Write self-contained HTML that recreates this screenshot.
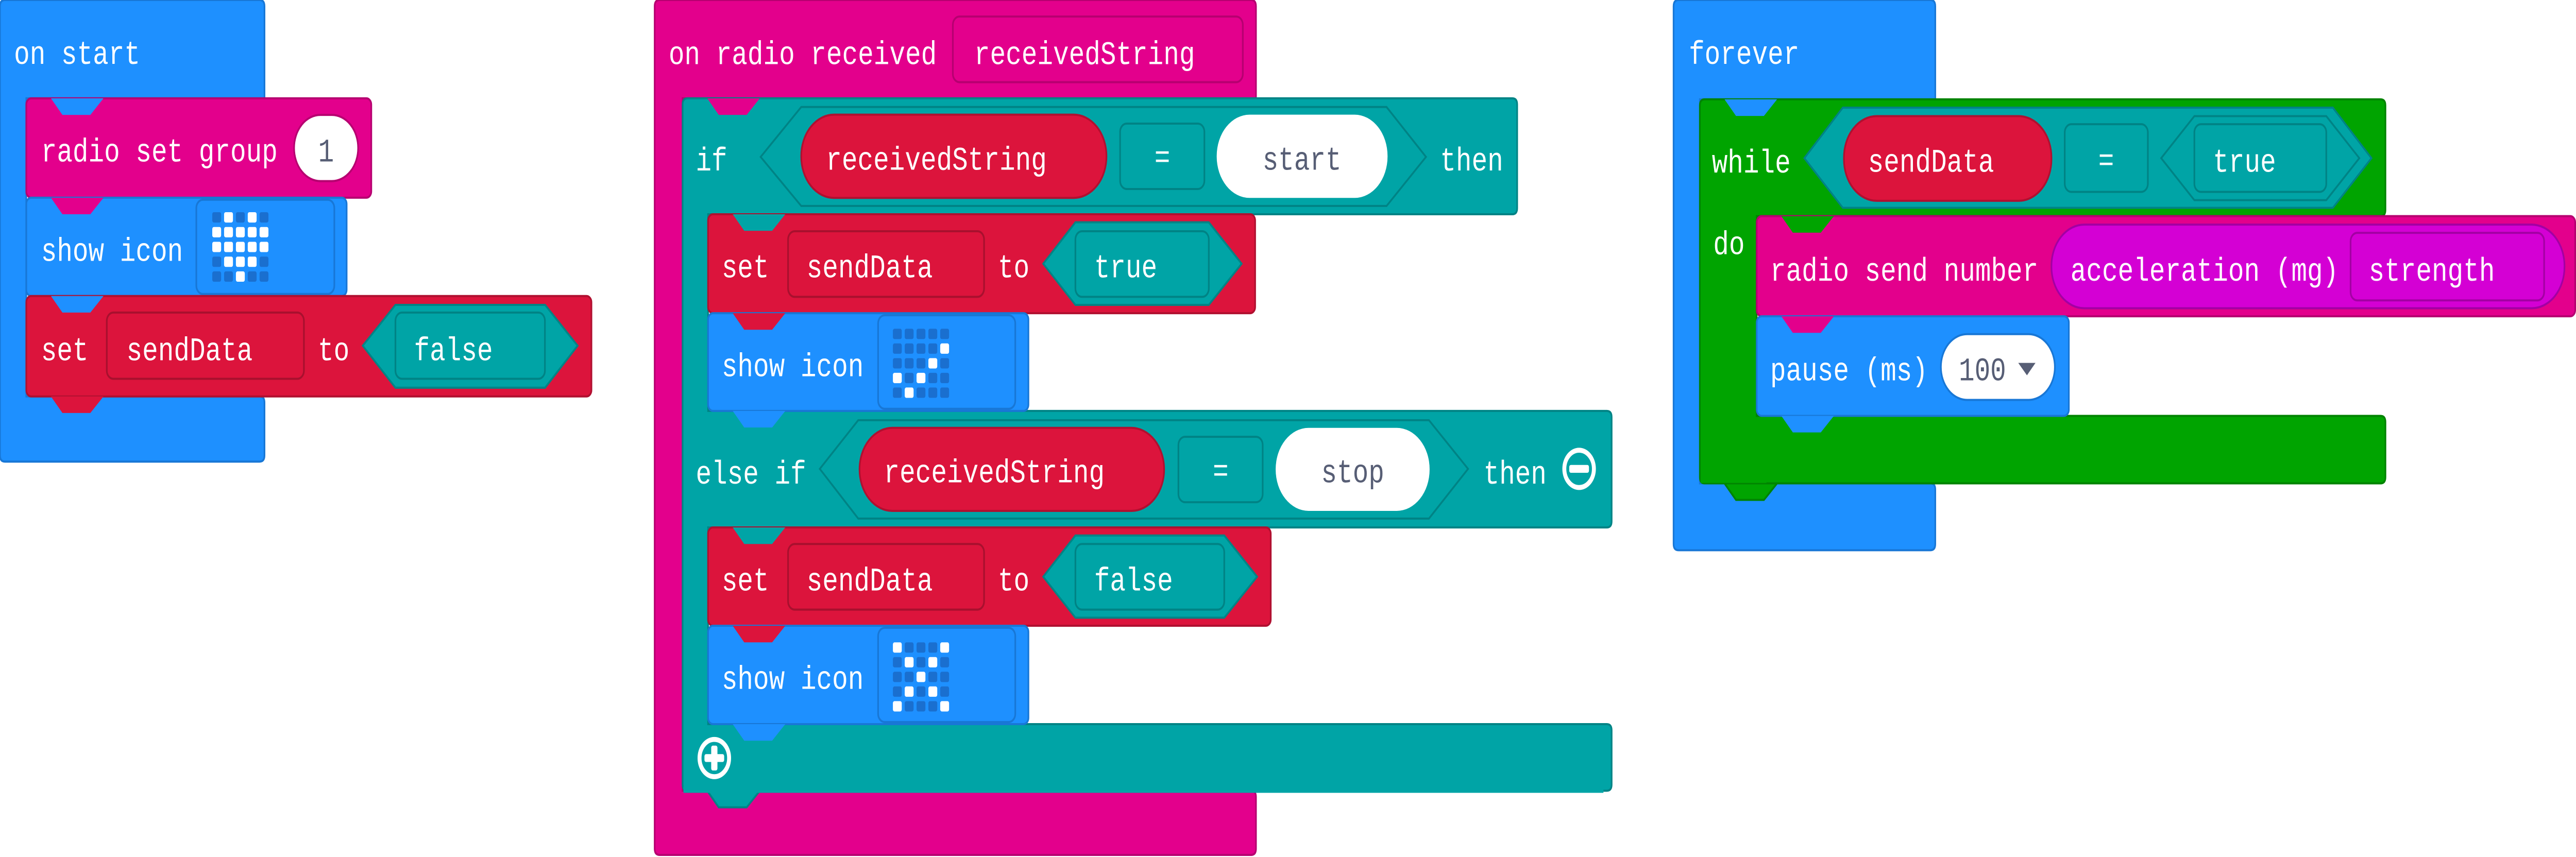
<!DOCTYPE html>
<html><head><meta charset="utf-8"><style>
html,body{margin:0;padding:0;background:#fff;width:100%;height:100%;overflow:hidden;}
svg{display:block;position:fixed;left:0;top:0;width:100vw;height:100vh;}
text{font-family:"Liberation Mono",monospace;font-size:16px;fill:#fff;}
.g{fill:#575e75;}
</style></head><body>
<svg viewBox="0 0 1568 414" preserveAspectRatio="none" xmlns="http://www.w3.org/2000/svg">
<defs>
<g id="ledon"><rect width="5.4" height="5" rx="1" fill="#fff"/></g>
<g id="ledoff"><rect width="5.4" height="5" rx="1" fill="#1a6fcf"/></g>
</defs>

<!-- ON START -->
<path d="M0,3 Q0,0 3,0 H158 Q161,0 161,3 V47.5 H16 V191.5 H158 Q161,191.5 161,194.5 V220 Q161,223 158,223 H3 Q0,223 0,220 Z" fill="#1e90ff" stroke="#1877d6" stroke-width="1"/>
<text x="8.5" y="30.8">on start</text>

<g transform="translate(16,47.5)">
<rect width="210" height="48" rx="3" fill="#e3008c" stroke="#b60070"/>
<polygon points="15,0 22,8 39,8 47,0" fill="#1e90ff"/>
<polygon points="15,48 22,56 39,56 47,48" fill="#e3008c"/>
<text x="9" y="30.5">radio set group</text>
<rect x="163" y="8" width="39" height="32" rx="16" fill="#fff" stroke="#b60070"/>
<text x="182.5" y="30.5" class="g" text-anchor="middle">1</text>
</g>

<g transform="translate(16,95.5)">
<rect width="195" height="47.5" rx="3" fill="#1e90ff" stroke="#1877d6"/>
<polygon points="15,0 22,8 39,8 47,0" fill="#e3008c"/>
<polygon points="15,47.5 22,55.5 39,55.5 47,47.5" fill="#1e90ff"/>
<text x="9" y="30.5">show icon</text>
<rect x="103.5" y="1" width="84" height="45.5" rx="4" fill="#1e90ff" stroke="#1877d6"/>
<g transform="translate(113.2,7)">
<use href="#ledoff" x="0" y="0"/><use href="#ledon" x="7.2" y="0"/><use href="#ledoff" x="14.4" y="0"/><use href="#ledon" x="21.6" y="0"/><use href="#ledoff" x="28.8" y="0"/>
<use href="#ledon" x="0" y="7.15"/><use href="#ledon" x="7.2" y="7.15"/><use href="#ledon" x="14.4" y="7.15"/><use href="#ledon" x="21.6" y="7.15"/><use href="#ledon" x="28.8" y="7.15"/>
<use href="#ledon" x="0" y="14.3"/><use href="#ledon" x="7.2" y="14.3"/><use href="#ledon" x="14.4" y="14.3"/><use href="#ledon" x="21.6" y="14.3"/><use href="#ledon" x="28.8" y="14.3"/>
<use href="#ledoff" x="0" y="21.45"/><use href="#ledon" x="7.2" y="21.45"/><use href="#ledon" x="14.4" y="21.45"/><use href="#ledon" x="21.6" y="21.45"/><use href="#ledoff" x="28.8" y="21.45"/>
<use href="#ledoff" x="0" y="28.6"/><use href="#ledoff" x="7.2" y="28.6"/><use href="#ledon" x="14.4" y="28.6"/><use href="#ledoff" x="21.6" y="28.6"/><use href="#ledoff" x="28.8" y="28.6"/>
</g>
</g>

<g transform="translate(16,143)">
<rect width="344" height="48.5" rx="3" fill="#dc143c" stroke="#b01030"/>
<polygon points="15,0 22,8 39,8 47,0" fill="#1e90ff"/>
<polygon points="15,48.5 22,56.5 39,56.5 47,48.5" fill="#dc143c"/>
<text x="9" y="31">set</text>
<rect x="49" y="8" width="120" height="32" rx="4" fill="#dc143c" stroke="#a8102e"/>
<text x="61" y="31">sendData</text>
<text x="177.5" y="31">to</text>
<polygon points="204.8,24 224.7,4.3 315.8,4.3 335.6,24 315.8,44.3 224.7,44.3" fill="#00a4a6" stroke="#008385"/>
<rect x="224.7" y="8" width="91" height="32" rx="4" fill="#00a4a6" stroke="#008385"/>
<text x="236" y="31">false</text>
</g>

<!-- ON RADIO RECEIVED -->
<path d="M398.5,3 Q398.5,0 401.5,0 H761.5 Q764.5,0 764.5,3 V47.5 H415.5 V382 H761.5 Q764.5,382 764.5,385 V410 Q764.5,413 761.5,413 H401.5 Q398.5,413 398.5,410 Z" fill="#e3008c" stroke="#b60070"/>
<text x="407" y="31">on radio received</text>
<rect x="580" y="8" width="176.5" height="31.7" rx="4" fill="#e3008c" stroke="#b60070"/>
<text x="593" y="31">receivedString</text>

<path d="M415.5,50.5 Q415.5,47.5 418.5,47.5 H920.5 Q923.5,47.5 923.5,50.5 V100.5 Q923.5,103.5 920.5,103.5 H431 V198.5 H978 Q981,198.5 981,201.5 V251.8 Q981,254.8 978,254.8 H431 V349.8 H978 Q981,349.8 981,352.8 V379 Q981,382 978,382 H418.5 Q415.5,382 415.5,379 Z" fill="#00a4a6" stroke="#008385"/>
<polygon points="430.5,47.5 437.5,55.5 454.5,55.5 462.5,47.5" fill="#e3008c"/>
<polygon points="430.5,382 437.5,390 454.5,390 462.5,382" fill="#00a4a6" stroke="#008385"/>
<rect x="416" y="380" width="560" height="3" fill="#00a4a6"/>
<text x="423.5" y="82.4">if</text>
<polygon points="463,75.8 487.7,51.7 844,51.7 868,75.8 844,99.5 487.7,99.5" fill="#00a4a6" stroke="#008385"/>
<rect x="487.7" y="55.4" width="185.8" height="40.2" rx="20" fill="#dc143c" stroke="#b01030"/>
<text x="502.8" y="82">receivedString</text>
<rect x="681.8" y="59.7" width="51.3" height="31.6" rx="4" fill="#00a4a6" stroke="#008385"/>
<text x="707.5" y="81" text-anchor="middle">=</text>
<rect x="740.6" y="55.4" width="104" height="40.2" rx="20" fill="#fff"/>
<text x="792.5" y="82" text-anchor="middle" class="g">start</text>
<text x="876.6" y="82.4">then</text>

<g transform="translate(431,103.5)">
<rect width="333" height="47.8" rx="3" fill="#dc143c" stroke="#b01030"/>
<polygon points="15,0 22,8 39,8 47,0" fill="#00a4a6"/>
<polygon points="15,47.8 22,55.8 39,55.8 47,47.8" fill="#dc143c"/>
<text x="8.3" y="30.5">set</text>
<rect x="48.7" y="8.2" width="119.3" height="31.7" rx="4" fill="#dc143c" stroke="#a8102e"/>
<text x="60" y="30.5">sendData</text>
<text x="176.4" y="30.5">to</text>
<polygon points="204,23.9 223.6,3.9 304.8,3.9 324.8,23.9 304.8,43.8 223.6,43.8" fill="#00a4a6" stroke="#008385"/>
<rect x="223.6" y="8.2" width="81.2" height="31.7" rx="4" fill="#00a4a6" stroke="#008385"/>
<text x="235" y="30.5">true</text>
</g>

<g transform="translate(431,151.3)">
<rect width="195" height="47.2" rx="3" fill="#1e90ff" stroke="#1877d6"/>
<polygon points="15,0 22,8 39,8 47,0" fill="#dc143c"/>
<polygon points="15,47.2 22,55.2 39,55.2 47,47.2" fill="#1e90ff"/>
<text x="8.3" y="30.5">show icon</text>
<rect x="103.5" y="1" width="83.5" height="45.2" rx="4" fill="#1e90ff" stroke="#1877d6"/>
<g transform="translate(112.5,7.5)">
<use href="#ledoff" x="0" y="0"/><use href="#ledoff" x="7.2" y="0"/><use href="#ledoff" x="14.4" y="0"/><use href="#ledoff" x="21.6" y="0"/><use href="#ledoff" x="28.8" y="0"/>
<use href="#ledoff" x="0" y="7.1"/><use href="#ledoff" x="7.2" y="7.1"/><use href="#ledoff" x="14.4" y="7.1"/><use href="#ledoff" x="21.6" y="7.1"/><use href="#ledon" x="28.8" y="7.1"/>
<use href="#ledoff" x="0" y="14.2"/><use href="#ledoff" x="7.2" y="14.2"/><use href="#ledoff" x="14.4" y="14.2"/><use href="#ledon" x="21.6" y="14.2"/><use href="#ledoff" x="28.8" y="14.2"/>
<use href="#ledon" x="0" y="21.3"/><use href="#ledoff" x="7.2" y="21.3"/><use href="#ledon" x="14.4" y="21.3"/><use href="#ledoff" x="21.6" y="21.3"/><use href="#ledoff" x="28.8" y="21.3"/>
<use href="#ledoff" x="0" y="28.4"/><use href="#ledon" x="7.2" y="28.4"/><use href="#ledoff" x="14.4" y="28.4"/><use href="#ledoff" x="21.6" y="28.4"/><use href="#ledoff" x="28.8" y="28.4"/>
</g>
</g>

<text x="423.5" y="233.6">else if</text>
<polygon points="499,226.5 522.4,203 869.8,203 893.6,226.5 869.8,250.5 522.4,250.5" fill="#00a4a6" stroke="#008385"/>
<rect x="523.2" y="206.7" width="185.4" height="40.1" rx="20" fill="#dc143c" stroke="#b01030"/>
<text x="538" y="233">receivedString</text>
<rect x="717.3" y="211" width="51.3" height="31.6" rx="4" fill="#00a4a6" stroke="#008385"/>
<text x="743" y="232.5" text-anchor="middle">=</text>
<rect x="776.5" y="206.7" width="93.7" height="40.1" rx="20" fill="#fff"/>
<text x="823.4" y="233" text-anchor="middle" class="g">stop</text>
<text x="903" y="233.6">then</text>
<circle cx="961.2" cy="226.5" r="9" fill="none" stroke="#fff" stroke-width="2.4"/>
<rect x="955.2" y="224.6" width="12" height="3.8" rx="1" fill="#fff"/>

<g transform="translate(431,254.8)">
<rect width="342.5" height="47.5" rx="3" fill="#dc143c" stroke="#b01030"/>
<polygon points="15,0 22,8 39,8 47,0" fill="#00a4a6"/>
<polygon points="15,47.5 22,55.5 39,55.5 47,47.5" fill="#dc143c"/>
<text x="8.3" y="30.5">set</text>
<rect x="48.7" y="8" width="119.3" height="31.7" rx="4" fill="#dc143c" stroke="#a8102e"/>
<text x="60" y="30.5">sendData</text>
<text x="176.4" y="30.5">to</text>
<polygon points="204,23.8 223.6,3.9 314.2,3.9 334.2,23.8 314.2,43.6 223.6,43.6" fill="#00a4a6" stroke="#008385"/>
<rect x="223.6" y="8" width="90.6" height="31.7" rx="4" fill="#00a4a6" stroke="#008385"/>
<text x="235" y="30.5">false</text>
</g>

<g transform="translate(431,302.3)">
<rect width="195" height="47.5" rx="3" fill="#1e90ff" stroke="#1877d6"/>
<polygon points="15,0 22,8 39,8 47,0" fill="#dc143c"/>
<polygon points="15,47.5 22,55.5 39,55.5 47,47.5" fill="#1e90ff"/>
<text x="8.3" y="30.5">show icon</text>
<rect x="103.5" y="1" width="83.5" height="45.5" rx="4" fill="#1e90ff" stroke="#1877d6"/>
<g transform="translate(112.5,8)">
<use href="#ledon" x="0" y="0"/><use href="#ledoff" x="7.2" y="0"/><use href="#ledoff" x="14.4" y="0"/><use href="#ledoff" x="21.6" y="0"/><use href="#ledon" x="28.8" y="0"/>
<use href="#ledoff" x="0" y="7.1"/><use href="#ledon" x="7.2" y="7.1"/><use href="#ledoff" x="14.4" y="7.1"/><use href="#ledon" x="21.6" y="7.1"/><use href="#ledoff" x="28.8" y="7.1"/>
<use href="#ledoff" x="0" y="14.2"/><use href="#ledoff" x="7.2" y="14.2"/><use href="#ledon" x="14.4" y="14.2"/><use href="#ledoff" x="21.6" y="14.2"/><use href="#ledoff" x="28.8" y="14.2"/>
<use href="#ledoff" x="0" y="21.3"/><use href="#ledon" x="7.2" y="21.3"/><use href="#ledoff" x="14.4" y="21.3"/><use href="#ledon" x="21.6" y="21.3"/><use href="#ledoff" x="28.8" y="21.3"/>
<use href="#ledon" x="0" y="28.4"/><use href="#ledoff" x="7.2" y="28.4"/><use href="#ledoff" x="14.4" y="28.4"/><use href="#ledoff" x="21.6" y="28.4"/><use href="#ledon" x="28.8" y="28.4"/>
</g>
</g>

<circle cx="434.8" cy="366.2" r="9" fill="none" stroke="#fff" stroke-width="2.4"/>
<rect x="428.8" y="364.3" width="12" height="3.8" rx="1" fill="#fff"/>
<rect x="432.9" y="360.2" width="3.8" height="12" rx="1" fill="#fff"/>

<!-- FOREVER -->
<path d="M1018.7,3 Q1018.7,0 1021.7,0 H1175 Q1178,0 1178,3 V48 H1034.7 V233.5 H1175 Q1178,233.5 1178,236.5 V262.8 Q1178,265.8 1175,265.8 H1021.7 Q1018.7,265.8 1018.7,262.8 Z" fill="#1e90ff" stroke="#1877d6"/>
<text x="1028" y="30.9">forever</text>

<path d="M1034.7,51 Q1034.7,48 1037.7,48 H1449 Q1452,48 1452,51 V101.4 Q1452,104.4 1449,104.4 H1069.3 V200.9 H1449 Q1452,200.9 1452,203.9 V230.5 Q1452,233.5 1449,233.5 H1037.7 Q1034.7,233.5 1034.7,230.5 Z" fill="#00a400" stroke="#008300"/>
<polygon points="1049.7,48 1056.7,56 1073.7,56 1081.7,48" fill="#1e90ff"/>
<polygon points="1049.7,233.5 1056.7,241.5 1073.7,241.5 1081.7,233.5" fill="#00a400" stroke="#008300"/>
<rect x="1035.2" y="231" width="40" height="2.3" fill="#00a400"/>
<text x="1042" y="83.3">while</text>
<text x="1042.8" y="122.8">do</text>
<polygon points="1098.3,76.4 1121.7,52 1420,52 1443.5,76.4 1420,100.4 1121.7,100.4" fill="#00a4a6" stroke="#008385"/>
<rect x="1122.4" y="56.1" width="126.3" height="40.9" rx="20" fill="#dc143c" stroke="#b01030"/>
<text x="1137" y="83">sendData</text>
<rect x="1256.8" y="60" width="50.6" height="32.7" rx="4" fill="#00a4a6" stroke="#008385"/>
<text x="1282" y="82.5" text-anchor="middle">=</text>
<polygon points="1315.5,76.4 1335.7,56.1 1416,56.1 1436.1,76.4 1416,96.7 1335.7,96.7" fill="#00a4a6" stroke="#008385"/>
<rect x="1335.7" y="60" width="80.3" height="32.7" rx="4" fill="#00a4a6" stroke="#008385"/>
<text x="1347" y="83">true</text>

<g transform="translate(1069.3,104.4)">
<rect width="498.2" height="48.4" rx="3" fill="#e3008c" stroke="#b60070"/>
<polygon points="15,0 22,8 39,8 47,0" fill="#00a400"/>
<polygon points="15,48.4 22,56.4 39,56.4 47,48.4" fill="#e3008c"/>
<text x="8.2" y="31.2">radio send number</text>
<rect x="179.4" y="4.1" width="312.3" height="40.4" rx="20" fill="#d400d4" stroke="#a300a3"/>
<text x="191" y="31.2">acceleration (mg)</text>
<rect x="361.5" y="8.1" width="117.8" height="32.6" rx="4" fill="#d400d4" stroke="#a300a3"/>
<text x="372.5" y="31.2">strength</text>
</g>

<g transform="translate(1069.3,152.8)">
<rect width="190" height="48.1" rx="3" fill="#1e90ff" stroke="#1877d6"/>
<polygon points="15,0 22,8 39,8 47,0" fill="#e3008c"/>
<polygon points="15,48.1 22,56.1 39,56.1 47,48.1" fill="#1e90ff"/>
<text x="8.2" y="31">pause (ms)</text>
<rect x="112.1" y="8.6" width="69.4" height="31.8" rx="16" fill="#fff" stroke="#1877d6"/>
<text x="123" y="31" class="g">100</text>
<polygon points="159.2,22.5 169.7,22.5 164.5,28.5" fill="#575e75"/>
</g>
</svg>
</body></html>
